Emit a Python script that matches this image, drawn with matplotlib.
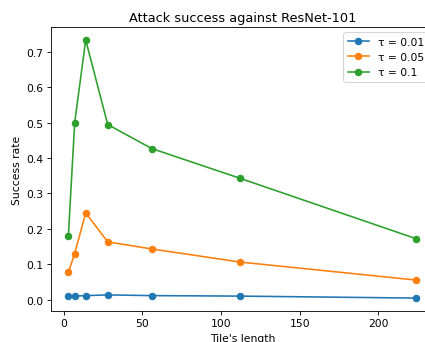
import numpy as np
import matplotlib
matplotlib.use('Agg')
import matplotlib.pyplot as plt

# lunghezza delle tile (pixel)
tile_len = [3, 7, 14, 28, 56, 112, 224]

# success rate per ogni tau
tau_labels = ['τ = 0.01', 'τ = 0.05', 'τ = 0.1']
sr_001 = [0.0096, 0.0096, 0.011, 0.013, 0.011, 0.0096, 0.004]
sr_005 = [0.077, 0.130, 0.245, 0.163, 0.143, 0.106, 0.055]
sr_01 = [0.181, 0.500, 0.734, 0.495, 0.427, 0.343, 0.172]

fig = plt.figure(figsize=(425 / 77, 343 / 77), dpi=77)
ax = fig.add_axes([0.12, 0.0904, 0.9, 0.8276])

for sr, lab in zip([sr_001, sr_005, sr_01], tau_labels):
    ax.plot(tile_len, sr, 'o-', label=lab)

ax.set_title('Attack success against ResNet-101')
ax.set_xlabel("Tile's length")
ax.set_ylabel('Success rate')
ax.legend(loc='upper right')

plt.savefig('out.png', dpi=77)
